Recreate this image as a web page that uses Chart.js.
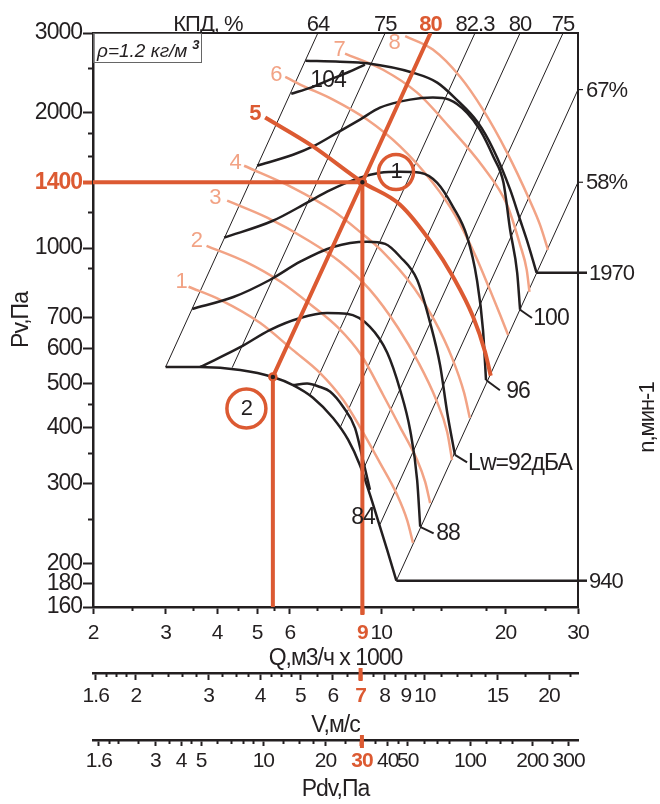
<!DOCTYPE html>
<html>
<head>
<meta charset="utf-8">
<script src="https://cdn.jsdelivr.net/npm/chart.js@4.4.1/dist/chart.umd.min.js"></script>
<style>
  html, body { margin: 0; padding: 0; background: #fff; }
  #wrap { width: 660px; height: 804px; position: relative; }
</style>
</head>
<body>
<div id="wrap"><canvas id="fan"></canvas></div>
<script>
// ranges of the four log scales
const Q_MIN = 2, Q_MAX = 30, P_MIN = 160, P_MAX = 3000;
const V_MIN = 1.576, V_MAX = 23.5, PDV_MIN = 1.5, PDV_MAX = 333;

// tick values
const qMajor = [2, 3, 4, 5, 6, 9, 10, 20, 30];
const qMinor = [2.5, 3.5, 4.5, 5.5, 7, 8, 12, 14, 18, 25];
const vMajor = [1.6, 2, 3, 4, 5, 6, 7, 8, 9, 10, 15, 20];
const vMinor = [1.7, 1.8, 1.9, 2.2, 2.4, 2.6, 2.8, 3.25, 3.5, 3.75, 4.25, 4.5, 4.75, 5.5, 6.5, 7.5, 8.5, 9.5, 11, 12, 13, 14, 17.5, 22.5];
const pdvMajor = [1.6, 3, 4, 5, 10, 20, 30, 40, 50, 100, 200, 300];
const pdvMinor = [1.8, 2, 2.5, 3.5, 4.5, 6, 7, 8, 9, 12.5, 15, 17.5, 25, 35, 45, 60, 70, 80, 120, 140, 160, 250];
const pMajor = [160, 180, 200, 300, 400, 500, 600, 700, 1000, 1400, 2000, 3000];
const pMinor = [250, 350, 450, 900, 1200, 1600, 1800, 2500];

// КПД labels along the top edge (Q where each line meets P=3000)
const effTopQ = [3.8, 7.02, 10.22, 13.17, 16.88, 21.71, 27.6];
const effTopLabels = ['КПД, %', '64', '75', '80', '82.3', '80', '75'];

// efficiency lines P ~ Q^2, [Q, P] end points
const eff64 = [[7.02, 3000], [3.0, 545]];
const eff75a = [[10.22, 3000], [4.35, 543]];
const eff823 = [[16.88, 3000], [6.72, 473]];
const eff80b = [[21.71, 3000], [7.94, 399]];
const eff75b = [[27.6, 3000], [9.03, 322]];
const eff67 = [[30, 2247], [9.93, 244]];
const eff58 = [[30, 1400], [10.88, 183]];

// salmon characteristics 1..8, [Q, P]
const s1 = [[3.41, 821], [4.07, 768], [5.08, 683], [6.11, 594], [7.1, 529], [8.08, 461], [8.88, 401], [9.93, 334], [10.92, 284], [11.56, 249], [11.94, 222]];
const s2 = [[3.77, 1012], [4.68, 933], [5.69, 843], [6.76, 748], [7.86, 666], [8.93, 580], [10.1, 473], [11.11, 401], [12.22, 339], [12.78, 303], [13.14, 272]];
const s3 = [[4.23, 1274], [5.29, 1168], [6.61, 1044], [7.94, 933], [9.39, 808], [10.98, 666], [12.29, 559], [13.59, 461], [14.45, 391], [14.85, 339]];
const s4 = [[4.65, 1523], [6.11, 1361], [7.64, 1210], [8.88, 1087], [9.98, 991], [12.0, 817], [13.44, 693], [14.85, 571], [15.88, 478], [16.4, 420]];
const s5 = [[5.23, 1948], [6.83, 1681], [9, 1400], [11.11, 1248], [13.34, 1017], [14.93, 864], [16.7, 704], [17.85, 589], [18.43, 521]];
const s6 = [[5.85, 2399], [6.36, 2305], [7.64, 2135], [9.24, 1928], [11.11, 1681], [13.34, 1396], [15.09, 1185], [16.88, 967], [18.35, 808], [19.43, 711], [20.3, 642]];
const s7 = [[8.17, 2701], [10.1, 2487], [12.22, 2212], [14.6, 1860], [17.65, 1515], [20.19, 1248], [21.71, 1017], [22.53, 895], [22.88, 800]];
const s8 = [[11.43, 2953], [13.34, 2756], [15.53, 2399], [17.65, 2028], [20.19, 1629], [22.88, 1280], [24.27, 1126], [25.38, 991]];

// black curves (sound power levels) and speed envelopes
const env1970 = [[6.55, 2604], [7.94, 2591], [9.24, 2570], [11.94, 2449], [13.67, 2329], [15.23, 2135], [17.15, 1899], [18.7, 1655], [20.54, 1348], [21.71, 1156], [22.53, 1044], [23.3, 943], [23.8, 882]];
const n1970 = [[23.8, 882], [30, 882]];
const lw104 = [[6.05, 2200], [6.75, 2270], [7.51, 2364], [8.26, 2449], [9.13, 2552]];
const lw100 = [[5.0, 1523], [6.11, 1611], [6.83, 1681], [7.81, 1802], [8.88, 1928], [9.93, 2049], [11.75, 2135], [13.34, 2157], [14.6, 2135], [16.15, 1996], [17.34, 1831], [18.7, 1594], [19.79, 1396], [20.54, 1097], [21.36, 882], [21.71, 730]];
const lw96 = [[4.16, 1055], [5.46, 1150], [6.61, 1261], [7.39, 1334], [8.88, 1433], [9.93, 1470], [11.11, 1478], [12.43, 1470], [13.67, 1396], [14.93, 1235], [16.15, 1060], [17.06, 851], [17.65, 659], [17.95, 510]];
const lw92 = [[3.48, 733], [4.38, 779], [5.38, 851], [6.36, 933], [7.64, 1006], [9.24, 1033], [10.22, 1022], [11.11, 957], [12.22, 851], [13.14, 683], [13.89, 550], [14.46, 431], [15.09, 348]];
const lw88 = [[3.64, 545], [4.55, 603], [5.38, 659], [6.36, 700], [7.39, 718], [8.26, 715], [9.39, 669], [10.34, 586], [11.11, 485], [11.75, 395], [12.22, 306], [12.43, 241]];
const lw84 = [[6.11, 497], [6.61, 501], [7.11, 492], [7.51, 481], [8.08, 445], [8.64, 399], [9.03, 339], [9.39, 291]];
const env940 = [[3.0, 545], [3.64, 545], [4.55, 537], [5.46, 518], [6.11, 497], [6.83, 466], [7.64, 420], [8.31, 376], [8.88, 330], [9.39, 284], [9.82, 249], [10.34, 214], [10.88, 183]];
const n940 = [[10.88, 183], [30, 183]];

// worked example in red
const red80 = [[13.17, 3000], [9, 1400], [5.46, 518]];
const redP = [[2, 1400], [9, 1400]];
const redQ = [[9, 1400], [9, 160]];
const redQ2 = [[5.46, 518], [5.46, 160]];
const dots = [[9, 1400], [5.46, 518]];
const rings = [[10.86, 1475], [4.71, 441]];
const redMarks = [['x', 9], ['v', 7], ['pdv', 30]];

// text labels [text, Q, P]
const salmonLabels = [['1', 3.27, 841], ['2', 3.56, 1037], ['3', 3.95, 1292], ['4', 4.42, 1544], ['5', 4.94, 1984], ['6', 5.55, 2424], ['7', 7.9, 2753], ['8', 10.74, 2856]];
const lwLabels = [['104', 7.43, 2353], ['100', 25.8, 699], ['96', 21.46, 481], ['Lw=92дБА', 21.7, 333], ['88', 14.52, 233], ['84', 9.03, 253]];
const lwLeaders = [[[21.71, 730], [23.2, 700]], [[17.95, 510], [19.4, 484]], [[15.09, 348], [16.15, 335]], [[12.43, 241], [13.4, 233]]];
const ringLabels = [['1', 10.86, 1475], ['2', 4.71, 441]];
const rightLabels = [['67%', 2247, false], ['58%', 1400, false], ['1970', 882, true], ['940', 183, true]];

const DARK = '#231f20', RED = '#dc5a32', SALMON = '#f2a385';
const FONT = "'Liberation Sans', Arial, sans-serif";

const pts = a => a.map(([x, y]) => ({ x, y }));
const setTicks = list => s => { s.ticks = list.map(v => ({ value: v })); };
const fixW = w => s => { s.width = w; };
const fixH = h => s => { s.height = h; };
const isHot = (c, v) => !!(c.tick && c.tick.value === v);

function curve(data, color, width, order, smooth) {
  return {
    data: pts(data), showLine: true, borderColor: color, borderWidth: width,
    pointRadius: 0, fill: false, order: order,
    cubicInterpolationMode: smooth ? 'monotone' : 'default', tension: 0
  };
}

function mainAxis(o) {
  return {
    type: 'logarithmic', position: o.position, min: o.min, max: o.max, weight: o.weight,
    afterBuildTicks: setTicks(o.ticks),
    afterFit: o.position === 'left' ? fixW(o.size) : fixH(o.size),
    border: { display: true, color: DARK, width: 2.5 },
    grid: {
      drawOnChartArea: false, tickLength: o.tickLength,
      tickColor: c => isHot(c, o.hot) ? RED : DARK,
      tickWidth: c => isHot(c, o.hot) ? 4 : 2
    },
    ticks: {
      autoSkip: false, maxRotation: 0, minRotation: 0, padding: o.padding,
      color: c => isHot(c, o.hot) ? RED : DARK,
      font: c => ({ family: FONT, size: o.fontSize, weight: isHot(c, o.hot) ? 'bold' : 'normal' }),
      callback: v => String(v)
    },
    title: { display: true, text: o.title, color: DARK, font: { family: FONT, size: 23 }, padding: o.titlePad }
  };
}

function minorAxis(o) {
  return {
    type: 'logarithmic', position: o.position, min: o.min, max: o.max, weight: o.weight,
    afterBuildTicks: setTicks(o.ticks),
    afterFit: o.position === 'left' ? fixW(0) : fixH(0),
    border: { display: false },
    grid: { drawOnChartArea: false, tickLength: o.tickLength, tickColor: DARK, tickWidth: 2 },
    ticks: { display: false, autoSkip: false }
  };
}

const notes = {
  id: 'notes',
  beforeDraw(chart) {
    // the reference lettering is set a little tighter than Liberation Sans
    chart.ctx.letterSpacing = '-1px';
  },
  afterDatasetsDraw(chart) {
    const { ctx, chartArea: a, scales: { x, y } } = chart;
    const X = v => x.getPixelForValue(v), Y = v => y.getPixelForValue(v);
    ctx.save();
    ctx.textAlign = 'center';
    ctx.textBaseline = 'middle';

    ctx.strokeStyle = DARK;
    ctx.lineWidth = 2;
    lwLeaders.forEach(([p0, p1]) => {
      ctx.beginPath();
      ctx.moveTo(X(p0[0]), Y(p0[1]));
      ctx.lineTo(X(p1[0]), Y(p1[1]));
      ctx.stroke();
    });

    ctx.fillStyle = DARK;
    ctx.font = '23px ' + FONT;
    lwLabels.forEach(([t, q, p]) => ctx.fillText(t, X(q), Y(p)));
    ctx.font = '22px ' + FONT;
    ringLabels.forEach(([t, q, p]) => ctx.fillText(t, X(q), Y(p)));

    salmonLabels.forEach(([t, q, p]) => {
      const hot = t === '5';
      ctx.font = (hot ? 'bold ' : '') + '22px ' + FONT;
      ctx.fillStyle = hot ? RED : SALMON;
      ctx.fillText(t, X(q), Y(p));
    });

    // red marks where the example crosses the lower scales
    ctx.strokeStyle = RED;
    ctx.lineWidth = 4;
    redMarks.forEach(([id, v]) => {
      const s = chart.scales[id];
      const px = s.getPixelForValue(v);
      ctx.beginPath();
      ctx.moveTo(px, s.top - (id === 'x' ? 0 : 5));
      ctx.lineTo(px, s.top + 8);
      ctx.stroke();
    });

    // labels right of the frame
    ctx.font = '22px ' + FONT;
    ctx.fillStyle = DARK;
    ctx.strokeStyle = DARK;
    ctx.textAlign = 'left';
    rightLabels.forEach(([t, p, ext]) => {
      const yy = Y(p);
      ctx.lineWidth = ext ? 2.5 : 1.2;
      ctx.beginPath();
      ctx.moveTo(a.right, yy);
      ctx.lineTo(a.right + (ext ? 9 : 5), yy);
      ctx.stroke();
      ctx.fillText(t, a.right + (ext ? 11 : 8), yy + 1);
    });

    ctx.save();
    ctx.translate(a.right + 70, a.top + (a.bottom - a.top) * 0.67);
    ctx.rotate(-Math.PI / 2);
    ctx.textAlign = 'center';
    ctx.fillText('n,мин-1', 0, 0);
    ctx.restore();

    // air density box
    ctx.lineWidth = 1;
    ctx.strokeStyle = '#666';
    ctx.strokeRect(a.left + 0.5, a.top + 0.5, 108, 29);
    ctx.textAlign = 'left';
    ctx.textBaseline = 'alphabetic';
    ctx.letterSpacing = '0px';
    ctx.font = 'italic 19px ' + FONT;
    const txt = 'ρ=1.2 кг/м';
    ctx.fillText(txt, a.left + 4, a.top + 24);
    const w = ctx.measureText(txt).width;
    ctx.font = 'bold italic 13px ' + FONT;
    ctx.fillText('3', a.left + 9 + w, a.top + 16);
    ctx.restore();
  }
};

const datasets = [
  // thin efficiency lines
  ...[eff64, eff75a, eff823, eff80b, eff75b, eff67, eff58].map(d => curve(d, DARK, 1, 5, false)),
  // salmon characteristics
  ...[s1, s2, s3, s4, s6, s7, s8].map(d => curve(d, SALMON, 2.5, 4, true)),
  // black curves
  ...[env1970, lw104, lw100, lw96, lw92, lw88, lw84, env940].map(d => curve(d, DARK, 2.5, 3, true)),
  ...[n1970, n940].map(d => curve(d, DARK, 2.5, 3, false)),
  // red example
  curve(s5, RED, 4, 2, true),
  ...[red80, redP, redQ, redQ2].map(d => curve(d, RED, 4, 2, false)),
  {
    data: pts(rings), showLine: false, order: 1,
    pointRadius: [17.5, 19.5], pointStyle: 'circle',
    pointBorderColor: RED, pointBackgroundColor: 'rgba(0,0,0,0)', pointBorderWidth: 3.5
  },
  {
    data: pts(dots), showLine: false, order: 0,
    pointRadius: 3.5, pointBorderColor: RED, pointBackgroundColor: DARK, pointBorderWidth: 2.5
  }
];

new Chart(document.getElementById('fan'), {
  type: 'scatter',
  data: { datasets },
  options: {
    responsive: true,
    maintainAspectRatio: false,
    animation: false,
    events: [],
    layout: { padding: 0 },
    plugins: { legend: { display: false }, tooltip: { enabled: false } },
    scales: {
      x: mainAxis({ position: 'bottom', min: Q_MIN, max: Q_MAX, weight: 0, ticks: qMajor, size: 66, tickLength: 7, padding: 7, fontSize: 21, hot: 9, title: 'Q,м3/ч x 1000', titlePad: { top: 0, bottom: 0.5 } }),
      xm: minorAxis({ position: 'bottom', min: Q_MIN, max: Q_MAX, weight: -1, ticks: qMinor, tickLength: 4 }),
      v: mainAxis({ position: 'bottom', min: V_MIN, max: V_MAX, weight: 1, ticks: vMajor, size: 67, tickLength: 7, padding: 4, fontSize: 21, hot: 7, title: 'V,м/с', titlePad: { top: 0, bottom: 0.5 } }),
      vm: minorAxis({ position: 'bottom', min: V_MIN, max: V_MAX, weight: 0.5, ticks: vMinor, tickLength: 4 }),
      pdv: mainAxis({ position: 'bottom', min: PDV_MIN, max: PDV_MAX, weight: 2, ticks: pdvMajor, size: 64, tickLength: 6, padding: 3, fontSize: 21, hot: 30, title: 'Pdv,Па', titlePad: { top: 0, bottom: 0.5 } }),
      pdvm: minorAxis({ position: 'bottom', min: PDV_MIN, max: PDV_MAX, weight: 1.5, ticks: pdvMinor, tickLength: 4 }),
      y: mainAxis({ position: 'left', min: P_MIN, max: P_MAX, weight: 1, ticks: pMajor, size: 93, tickLength: 10, padding: 1, fontSize: 23, hot: 1400, title: 'Pv,Па', titlePad: { top: 8, bottom: 0 } }),
      ym: minorAxis({ position: 'left', min: P_MIN, max: P_MAX, weight: 0, ticks: pMinor, tickLength: 5 }),
      yr: {
        type: 'logarithmic', position: 'right', min: P_MIN, max: P_MAX,
        afterFit: fixW(82),
        border: { display: true, color: DARK, width: 2 },
        grid: { display: false, drawTicks: false },
        ticks: { display: false }
      },
      xt: {
        type: 'logarithmic', position: 'top', min: Q_MIN, max: Q_MAX,
        afterBuildTicks: setTicks(effTopQ),
        afterFit: fixH(33),
        border: { display: true, color: DARK, width: 2 },
        grid: { display: false, drawTicks: false },
        ticks: {
          autoSkip: false, maxRotation: 0, minRotation: 0, padding: -3,
          color: c => c.index === 3 ? RED : DARK,
          font: c => ({ family: FONT, size: 22, lineHeight: 1, weight: c.index === 3 ? 'bold' : 'normal' }),
          callback: (v, i) => effTopLabels[i]
        }
      }
    }
  },
  plugins: [notes]
});
</script>
</body>
</html>
